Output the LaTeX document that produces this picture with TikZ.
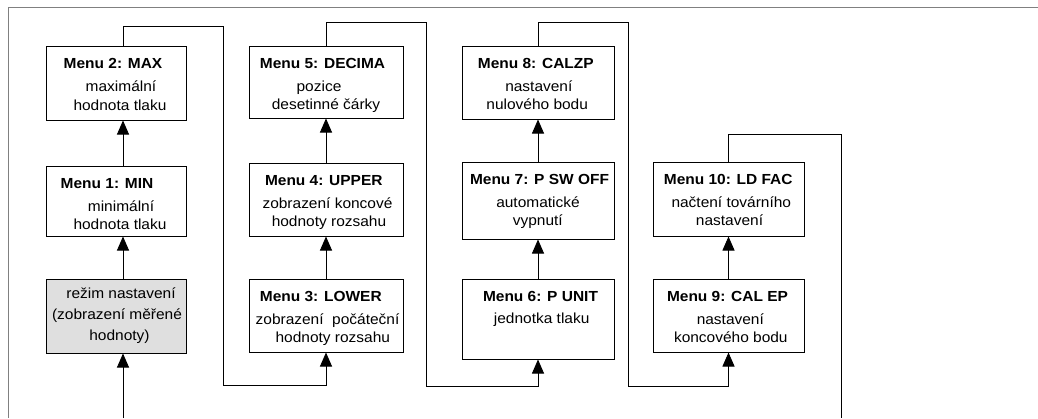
\documentclass[tikz,border=0pt]{standalone}
\usepackage{fontspec}
\setmainfont{Liberation Sans}[FakeStretch=1.06]
\usetikzlibrary{arrows.meta}
\begin{document}
\begin{tikzpicture}[x=1pt,y=-1pt,
  box/.style={draw, line width=1pt, inner sep=0pt, fill=white},
  grbox/.style={box, fill=gray!25},
  txt/.style={anchor=base, inner sep=0pt, font=\fontsize{14.6}{16}\selectfont},
  hdr/.style={txt, font=\fontsize{14.6}{16}\selectfont\bfseries},
  wire/.style={line width=0.9pt},
  arr/.style={wire, -{Triangle[length=14pt,width=12pt]}}]
\useasboundingbox (0,0) rectangle (1038,418);
% frame
\draw[gray, line width=1.6pt] (8.5,418) -- (8.5,7.5) -- (1038,7.5);
% boxes
\node[box, minimum width=140pt, minimum height=74pt] (max) at (116,83) {};
\node[box, minimum width=140pt, minimum height=70pt] (min) at (116,201) {};
\node[grbox, minimum width=140pt, minimum height=74pt] (rez) at (116,316) {};
\node[box, minimum width=154pt, minimum height=72pt] (dec) at (326,82) {};
\node[box, minimum width=154pt, minimum height=73pt] (upp) at (326,199.5) {};
\node[box, minimum width=154pt, minimum height=73pt] (low) at (326,315.5) {};
\node[box, minimum width=152pt, minimum height=73pt] (cal) at (538,82.5) {};
\node[box, minimum width=152pt, minimum height=77pt] (psw) at (538,200.5) {};
\node[box, minimum width=152pt, minimum height=80pt] (pun) at (538,319) {};
\node[box, minimum width=151pt, minimum height=74pt] (ldf) at (728.5,199) {};
\node[box, minimum width=151pt, minimum height=73pt] (cep) at (728.5,315.5) {};
% texts
\node[hdr] (t2a) at (113,68) {Menu 2: MAX};
\node[txt] (t2b) at (121,91) {maximální};
\node[txt] (t2c) at (120,110) {hodnota tlaku};
\node[hdr] (t1a) at (107,188) {Menu 1: MIN};
\node[txt] (t1b) at (121,211) {minimální};
\node[txt] (t1c) at (120,229) {hodnota tlaku};
\node[txt] (tra) at (121,298) {režim nastavení};
\node[txt] (trb) at (117,319) {(zobrazení měřené};
\node[txt] (trc) at (119.5,340) {hodnoty)};
\node[hdr] (t5a) at (322.5,68) {Menu 5: DECIMA};
\node[txt] (t5b) at (319,91) {pozice};
\node[txt] (t5c) at (326,109) {desetinné čárky};
\node[hdr] (t4a) at (323.8,185) {Menu 4: UPPER};
\node[txt] (t4b) at (327.5,208) {zobrazení koncové};
\node[txt] (t4c) at (329,226) {hodnoty rozsahu};
\node[hdr] (t3a) at (320.8,301) {Menu 3: LOWER};
\node[txt] (t3b) at (327.5,324) {zobrazení\ \ počáteční};
\node[txt] (t3c) at (332.8,342) {hodnoty rozsahu};
\node[hdr] (t8a) at (535.8,68) {Menu 8: CALZP};
\node[txt] (t8b) at (538.8,91) {nastavení};
\node[txt] (t8c) at (537.2,109) {nulového bodu};
\node[hdr] (t7a) at (539.5,184) {Menu 7: P SW OFF};
\node[txt] (t7b) at (538,207) {automatické};
\node[txt] (t7c) at (537.8,225) {vypnutí};
\node[hdr] (t6a) at (540.5,301.5) {Menu 6: P UNIT};
\node[txt] (t6b) at (541.7,323) {jednotka tlaku};
\node[hdr] (t10a) at (728.2,184) {Menu 10: LD FAC};
\node[txt] (t10b) at (731.3,207) {načtení továrního};
\node[txt] (t10c) at (729.5,225) {nastavení};
\node[hdr] (t9a) at (727.5,301) {Menu 9: CAL EP};
\node[txt] (t9b) at (730.3,324) {nastavení};
\node[txt] (t9c) at (730.8,342) {koncového bodu};
% wire coordinates
\coordinate (c1) at (123,0);
\coordinate (in) at (123,418);
\coordinate (w1a) at (223,26);
\coordinate (w1b) at (223,385);
\coordinate (w2a) at (426,22);
\coordinate (w2b) at (426,386);
\coordinate (w3a) at (628,22);
\coordinate (w3b) at (628,386);
\coordinate (w4a) at (841,134);
\coordinate (out) at (841,418);
% connectors
\draw[arr] (in) -- (rez.south -| c1);
\draw[arr] (rez.north -| c1) -- (min.south -| c1);
\draw[arr] (min.north -| c1) -- (max.south -| c1);
\draw[arr] (max.north -| c1) |- (w1a) -- (w1b) -| (low.south);
\draw[arr] (low.north) -- (upp.south);
\draw[arr] (upp.north) -- (dec.south);
\draw[arr] (dec.north) |- (w2a) -- (w2b) -| (pun.south);
\draw[arr] (pun.north) -- (psw.south);
\draw[arr] (psw.north) -- (cal.south);
\draw[arr] (cal.north) |- (w3a) -- (w3b) -| (cep.south);
\draw[arr] (cep.north) -- (ldf.south);
\draw[wire] (ldf.north) |- (w4a) -- (out);
\end{tikzpicture}
\end{document}
